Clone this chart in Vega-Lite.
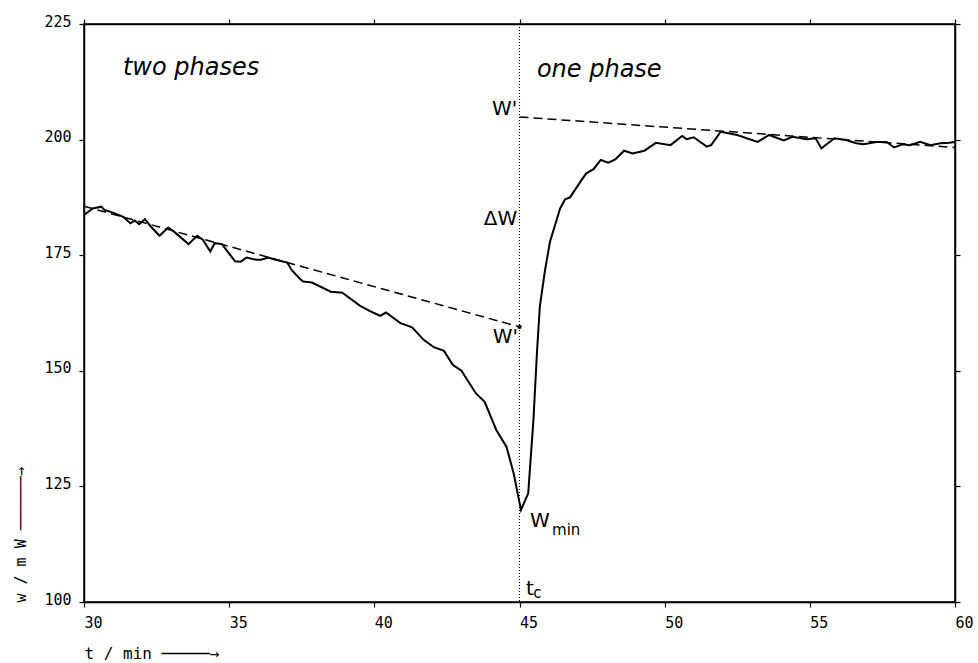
{
  "$schema": "https://vega.github.io/schema/vega-lite/v6.json",
  "width": 871,
  "height": 578,
  "autosize": {"type": "none"},
  "padding": {"left": 84, "top": 24, "right": 23, "bottom": 61},
  "background": "white",
  "config": {
    "view": {"stroke": "black", "strokeWidth": 1.5},
    "axis": {
      "domainColor": "black", "domainWidth": 1.5, "tickColor": "black", "tickWidth": 1.2, "tickSize": 5,
      "labelFont": "DejaVu Sans Mono", "labelFontSize": 15, "labelColor": "black",
      "titleFont": "DejaVu Sans Mono", "titleFontWeight": "normal", "titleColor": "black", "grid": false
    }
  },
  "datasets": {
    "curve": [
      {"t": 30.0, "w": 183.7}, {"t": 30.3, "w": 185.1}, {"t": 30.6, "w": 185.5}, {"t": 30.7, "w": 184.8},
      {"t": 31.0, "w": 184.2}, {"t": 31.35, "w": 183.3}, {"t": 31.6, "w": 181.9}, {"t": 31.75, "w": 182.5},
      {"t": 31.9, "w": 181.7}, {"t": 32.1, "w": 182.8}, {"t": 32.3, "w": 181.2}, {"t": 32.6, "w": 179.2},
      {"t": 32.9, "w": 181.0}, {"t": 33.1, "w": 180.1}, {"t": 33.6, "w": 177.4}, {"t": 33.9, "w": 179.2},
      {"t": 34.1, "w": 178.3}, {"t": 34.35, "w": 175.8}, {"t": 34.5, "w": 177.6}, {"t": 34.75, "w": 177.4},
      {"t": 35.2, "w": 173.7}, {"t": 35.4, "w": 173.6}, {"t": 35.6, "w": 174.5}, {"t": 35.95, "w": 174.0},
      {"t": 36.1, "w": 174.0}, {"t": 36.35, "w": 174.5}, {"t": 36.6, "w": 174.0}, {"t": 37.0, "w": 173.4},
      {"t": 37.15, "w": 171.8}, {"t": 37.45, "w": 169.8}, {"t": 37.55, "w": 169.3}, {"t": 37.85, "w": 169.1},
      {"t": 38.5, "w": 167.1}, {"t": 38.9, "w": 166.9}, {"t": 39.5, "w": 164.1}, {"t": 39.85, "w": 162.9},
      {"t": 40.2, "w": 161.9}, {"t": 40.4, "w": 162.6}, {"t": 40.9, "w": 160.3}, {"t": 41.3, "w": 159.4},
      {"t": 41.7, "w": 156.7}, {"t": 42.05, "w": 155.1}, {"t": 42.4, "w": 154.3}, {"t": 42.7, "w": 151.3},
      {"t": 43.0, "w": 150.0}, {"t": 43.5, "w": 145.1}, {"t": 43.8, "w": 143.3}, {"t": 44.2, "w": 137.2},
      {"t": 44.55, "w": 133.6}, {"t": 44.8, "w": 127.8}, {"t": 45.05, "w": 119.9}, {"t": 45.3, "w": 123.5},
      {"t": 45.48, "w": 139.4}, {"t": 45.6, "w": 153.8}, {"t": 45.7, "w": 163.9}, {"t": 45.88, "w": 171.8},
      {"t": 46.05, "w": 177.9}, {"t": 46.4, "w": 185.1}, {"t": 46.57, "w": 187.1}, {"t": 46.74, "w": 187.5},
      {"t": 47.14, "w": 191.3}, {"t": 47.3, "w": 192.7}, {"t": 47.55, "w": 193.6}, {"t": 47.8, "w": 195.6},
      {"t": 48.06, "w": 195.0}, {"t": 48.3, "w": 195.7}, {"t": 48.6, "w": 197.6}, {"t": 48.9, "w": 197.0},
      {"t": 49.3, "w": 197.6}, {"t": 49.7, "w": 199.3}, {"t": 50.2, "w": 198.8}, {"t": 50.6, "w": 200.8},
      {"t": 50.75, "w": 200.1}, {"t": 51.0, "w": 200.5}, {"t": 51.45, "w": 198.5}, {"t": 51.6, "w": 198.8},
      {"t": 51.93, "w": 201.7}, {"t": 52.5, "w": 201.0}, {"t": 53.2, "w": 199.5}, {"t": 53.6, "w": 201.0},
      {"t": 54.1, "w": 199.8}, {"t": 54.4, "w": 200.6}, {"t": 54.9, "w": 200.1}, {"t": 55.2, "w": 200.3},
      {"t": 55.4, "w": 198.1}, {"t": 55.5, "w": 198.6}, {"t": 55.85, "w": 200.3}, {"t": 56.25, "w": 199.9},
      {"t": 56.6, "w": 199.2}, {"t": 56.85, "w": 199.0}, {"t": 57.3, "w": 199.5}, {"t": 57.65, "w": 199.5},
      {"t": 57.9, "w": 198.3}, {"t": 58.2, "w": 199.0}, {"t": 58.45, "w": 198.8}, {"t": 58.8, "w": 199.5},
      {"t": 59.15, "w": 198.8}, {"t": 59.5, "w": 199.2}, {"t": 59.8, "w": 199.3}, {"t": 60.0, "w": 199.5}
    ],
    "fits": [
      {"seg": "two phases", "t": 30, "w": 185.6},
      {"seg": "two phases", "t": 45, "w": 159.5},
      {"seg": "one phase", "t": 45, "w": 204.9},
      {"seg": "one phase", "t": 60, "w": 198.3}
    ],
    "labels": [
      {"kind": "phase", "t": 31.34, "w": 214.0, "text": "two phases"},
      {"kind": "phase", "t": 45.6, "w": 213.5, "text": "one phase"},
      {"kind": "marker", "t": 44.92, "w": 205.3, "text": "W'"},
      {"kind": "marker", "t": 44.92, "w": 181.5, "text": "ΔW"},
      {"kind": "marker", "t": 44.95, "w": 156.0, "text": "W'"},
      {"kind": "base", "t": 45.36, "w": 116.2, "text": "W"},
      {"kind": "base", "t": 45.22, "w": 101.5, "text": "t"},
      {"kind": "sub", "t": 46.12, "w": 114.5, "text": "min"},
      {"kind": "sub", "t": 45.47, "w": 100.9, "text": "c"}
    ]
  },
  "layer": [
    {
      "data": {"name": "curve"},
      "mark": {"type": "line", "color": "black", "strokeWidth": 2, "interpolate": "linear"},
      "encoding": {
        "x": {"field": "t", "type": "quantitative", "scale": {"domain": [30, 60], "nice": false, "zero": false},
          "axis": {"orient": "bottom", "values": [30, 35, 40, 45, 50, 55, 60], "labelAlign": "left", "labelPadding": 8,
            "title": "t / min ─────→", "titleFontSize": 16, "titleAnchor": "start", "titleAlign": "left", "titleX": 0, "titleY": 51, "titleBaseline": "middle"}},
        "y": {"field": "w", "type": "quantitative", "scale": {"domain": [100, 225], "nice": false, "zero": false},
          "axis": {"orient": "left", "values": [100, 125, 150, 175, 200, 225], "labelBaseline": "alphabetic", "labelOffset": 2, "labelPadding": 8,
            "title": "w / m W  ──────→", "titleFontSize": 15, "titleAngle": 270, "titleAnchor": "start", "titleAlign": "left", "titleBaseline": "middle", "titleX": -64, "titleY": 578}}
      }
    },
    {
      "data": {"name": "fits"},
      "mark": {"type": "line", "color": "black", "strokeWidth": 1.5, "strokeDash": [9, 5]},
      "encoding": {
        "x": {"field": "t", "type": "quantitative", "axis": {"orient": "top", "values": [30, 35, 40, 45, 50, 55, 60], "labels": false, "title": null}},
        "y": {"field": "w", "type": "quantitative", "axis": {"orient": "right", "values": [100, 125, 150, 175, 200, 225], "labels": false, "title": null}},
        "detail": {"field": "seg"}
      }
    },
    {
      "data": {"name": "fits"},
      "transform": [{"filter": "datum.seg === 'two phases' && datum.t === 45"}],
      "mark": {"type": "point", "filled": true, "color": "black", "size": 20, "opacity": 1},
      "encoding": {
        "x": {"field": "t", "type": "quantitative", "axis": null},
        "y": {"field": "w", "type": "quantitative", "axis": null}
      }
    },
    {
      "data": {"values": [{"t": 45}]},
      "mark": {"type": "rule", "color": "black", "strokeWidth": 1, "strokeDash": [1, 2]},
      "encoding": {
        "x": {"field": "t", "type": "quantitative", "axis": null}
      }
    },
    {
      "data": {"name": "labels"},
      "transform": [{"filter": "datum.kind === 'phase'"}],
      "mark": {"type": "text", "font": "DejaVu Sans", "fontStyle": "italic", "fontSize": 24, "align": "left", "baseline": "alphabetic", "color": "black"},
      "encoding": {
        "x": {"field": "t", "type": "quantitative", "axis": null},
        "y": {"field": "w", "type": "quantitative", "axis": null},
        "text": {"field": "text"}
      }
    },
    {
      "data": {"name": "labels"},
      "transform": [{"filter": "datum.kind === 'marker'"}],
      "mark": {"type": "text", "font": "DejaVu Sans", "fontSize": 20, "align": "right", "baseline": "alphabetic", "color": "black"},
      "encoding": {
        "x": {"field": "t", "type": "quantitative", "axis": null},
        "y": {"field": "w", "type": "quantitative", "axis": null},
        "text": {"field": "text"}
      }
    },
    {
      "data": {"name": "labels"},
      "transform": [{"filter": "datum.kind === 'base'"}],
      "mark": {"type": "text", "font": "DejaVu Sans", "fontSize": 20, "align": "left", "baseline": "alphabetic", "color": "black"},
      "encoding": {
        "x": {"field": "t", "type": "quantitative", "axis": null},
        "y": {"field": "w", "type": "quantitative", "axis": null},
        "text": {"field": "text"}
      }
    },
    {
      "data": {"name": "labels"},
      "transform": [{"filter": "datum.kind === 'sub'"}],
      "mark": {"type": "text", "font": "DejaVu Sans", "fontSize": 15, "align": "left", "baseline": "alphabetic", "color": "black"},
      "encoding": {
        "x": {"field": "t", "type": "quantitative", "axis": null},
        "y": {"field": "w", "type": "quantitative", "axis": null},
        "text": {"field": "text"}
      }
    }
  ],
  "resolve": {"axis": {"x": "independent", "y": "independent"}}
}
